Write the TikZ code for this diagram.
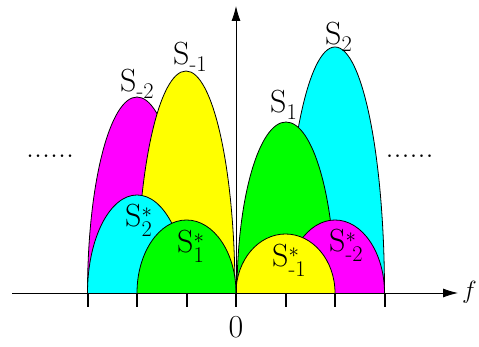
\documentclass[tikz,border=0pt]{standalone}
\usepackage{amsmath}
\usetikzlibrary{arrows.meta}
\definecolor{LobeMagenta}{RGB}{255,0,255}
\definecolor{LobeYellow}{RGB}{255,255,0}
\definecolor{LobeCyan}{RGB}{0,255,255}
\definecolor{LobeGreen}{RGB}{0,255,0}

\begin{document}
\begin{tikzpicture}[x=1pt,y=1pt, every node/.style={font=\fontsize{32}{38}\selectfont, inner sep=0pt},
  lobe/.style={draw=black, line width=0.8pt},
  tickmark/.style={line width=2pt},
  axis/.style={line width=0.8pt, -{Latex[length=15pt,width=9pt]}}]
  \useasboundingbox (0,0) rectangle (479,347);
  % upper spectra
  \draw[lobe, fill=LobeMagenta] (87.5,54) arc[start angle=180, end angle=0, x radius=49.5, y radius=196];
  \draw[lobe, fill=LobeYellow] (137,54) arc[start angle=180, end angle=0, x radius=49, y radius=222];
  \draw[lobe, fill=LobeCyan] (285.5,54) arc[start angle=180, end angle=0, x radius=49.5, y radius=246];
  \draw[lobe, fill=LobeGreen] (237,54) arc[start angle=180, end angle=0, x radius=49, y radius=171];
  % conjugate spectra
  \draw[lobe, fill=LobeCyan] (87.5,54) arc[start angle=180, end angle=0, x radius=49.5, y radius=98];
  \draw[lobe, fill=LobeGreen] (137,54) arc[start angle=180, end angle=0, x radius=49.5, y radius=73];
  \draw[lobe, fill=LobeMagenta] (285.5,54) arc[start angle=180, end angle=0, x radius=49.5, y radius=73];
  \draw[lobe, fill=LobeYellow] (236,54) arc[start angle=180, end angle=0, x radius=49.5, y radius=59];
  % axes
  \coordinate (origin) at (236,54);
  \coordinate (xstart) at (12,54);
  \coordinate (xend) at (458,54);
  \coordinate (yend) at (236,341);
  \draw[axis] (xstart) -- (xend);
  \draw[axis] (origin) -- (yend);
  \foreach \k in {-3,...,3}
    \draw[tickmark] (236+49.5*\k,54) -- ++(0,-14);
  \node (zero) at (236,20) {0};
  \node[anchor=base west] (faxis) at (462,48) {$f$};
  % labels
  \node[anchor=base west] (sm2) at (120,255) {S$_{\text{-2}}$};
  \node[anchor=base west] (sm1) at (173,282) {S$_{\text{-1}}$};
  \node[anchor=base west] (sp1) at (270,234) {S$_{\text{1}}$};
  \node[anchor=base west] (sp2) at (325,302) {S$_{\text{2}}$};
  \node[anchor=base west] (cp2) at (125,120) {S$^{*}_{\text{2}}$};
  \node[anchor=base west] (cp1) at (177,94) {S$^{*}_{\text{1}}$};
  \node[anchor=base west] (cm1) at (272,80) {S$^{*}_{\text{-1}}$};
  \node[anchor=base west] (cm2) at (329,95) {S$^{*}_{\text{-2}}$};
  \node (dotsleft) at (50,191) {......};
  \node (dotsright) at (409.5,191) {......};
\end{tikzpicture}
\end{document}
